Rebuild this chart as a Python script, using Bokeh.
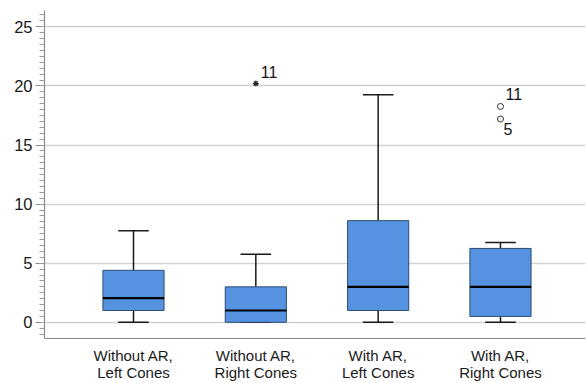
import numpy as np
from bokeh.plotting import figure
from bokeh.models import (ColumnDataSource, Range1d, SingleIntervalTicker, FixedTicker,
                          CDSView, IndexFilter)
from bokeh.core.properties import value
from bokeh.embed import file_html
from bokeh.resources import INLINE

# Groups and five-number summaries for each box
categories = ["Without AR,\nLeft Cones", "Without AR,\nRight Cones",
              "With AR,\nLeft Cones", "With AR,\nRight Cones"]
lower_whisker = [0.0, 0.0, 0.0, 0.0]
q1 = [1.0, 0.0, 1.0, 0.5]
median = [2.05, 1.0, 3.0, 3.0]
q3 = [4.4, 3.0, 8.6, 6.25]
upper_whisker = [7.75, 5.75, 19.25, 6.75]

# Outlying cases (group index, value, case number)
outlier_group = [2, 4, 4]
outlier_value = [20.2, 18.26, 17.2]
outlier_case = ["11", "11", "5"]
outlier_kind = ["extreme", "outlier", "outlier"]

y_ticks = [0, 5, 10, 15, 20, 25]

BOX_W = 0.5
CAP_W = 0.25
FONT = "Liberation Sans"
Y0, Y1 = -1.37, 26.38

pos = np.arange(1, len(categories) + 1, dtype=float)

p = figure(width=586, height=383, output_backend="svg", toolbar_location=None,
           x_range=Range1d(0.2725, 4.695), y_range=Range1d(Y0, Y1),
           min_border_left=44, min_border_top=10, min_border_right=1,
           min_border_bottom=44)
p.outline_line_color = None
p.background_fill_color = "white"
p.border_fill_color = "white"

src = ColumnDataSource(dict(
    x=pos, lo=lower_whisker, q1=q1, med=median, q3=q3, hi=upper_whisker,
    x0=pos - BOX_W / 2, x1=pos + BOX_W / 2,
    c0=pos - CAP_W / 2, c1=pos + CAP_W / 2,
))

# whisker stems
p.segment(x0="x", y0="q3", x1="x", y1="hi", source=src, line_color="#1a1a1a", line_width=1.5)
p.segment(x0="x", y0="lo", x1="x", y1="q1", source=src, line_color="#1a1a1a", line_width=1.5)
# whisker caps
p.segment(x0="c0", y0="hi", x1="c1", y1="hi", source=src, line_color="#1a1a1a", line_width=1.5)
p.segment(x0="c0", y0="lo", x1="c1", y1="lo", source=src, line_color="#1a1a1a", line_width=1.5)
# boxes
p.vbar(x="x", width=BOX_W, bottom="q1", top="q3", source=src,
       fill_color="#5593E1", line_color="#2e4c72", line_width=1)
# medians
p.segment(x0="x0", y0="med", x1="x1", y1="med", source=src, line_color="#000000", line_width=2.2)

# outliers
osrc = ColumnDataSource(dict(
    x=[float(g) for g in outlier_group], y=outlier_value, case=outlier_case,
    kind=outlier_kind,
))
ext = [i for i, k in enumerate(outlier_kind) if k == "extreme"]
out = [i for i, k in enumerate(outlier_kind) if k == "outlier"]
p.scatter(x="x", y="y", source=osrc, view=CDSView(filter=IndexFilter(ext)),
          marker="asterisk", size=6, line_color="#222222", line_width=1.2)
p.scatter(x="x", y="y", source=osrc, view=CDSView(filter=IndexFilter(out)),
          marker="circle", size=6, fill_color="white", line_color="#333333", line_width=1)

# case-number labels: above the point for the top one, below for the lower one
above = [0, 1]
below = [2]
p.text(x="x", y="y", text="case", source=osrc, view=CDSView(filter=IndexFilter(above)),
       x_offset=5, y_offset=-6, text_baseline="bottom", text_align="left",
       text_font=value(FONT), text_font_size="16px", text_color="#111111")
p.text(x="x", y="y", text="case", source=osrc, view=CDSView(filter=IndexFilter(below)),
       x_offset=3, y_offset=4, text_baseline="top", text_align="left",
       text_font=value(FONT), text_font_size="16px", text_color="#111111")

# y axis
p.yaxis.ticker = SingleIntervalTicker(interval=5, num_minor_ticks=10)
p.yaxis.axis_line_color = "#8a8a8a"
p.yaxis.axis_line_width = 1.2
p.yaxis.major_tick_line_color = "#8a8a8a"
p.yaxis.minor_tick_line_color = "#9a9a9a"
p.yaxis.major_tick_out = 9
p.yaxis.major_tick_in = 0
p.yaxis.minor_tick_out = 5
p.yaxis.minor_tick_in = 0
p.yaxis.major_label_standoff = 3
p.yaxis.major_label_text_font = FONT
p.yaxis.major_label_text_font_size = "16.5px"
p.yaxis.major_label_text_color = "#1a1a1a"

# x axis with two-line group names
p.xaxis.ticker = FixedTicker(ticks=list(pos))
p.xaxis.major_label_overrides = {float(v): c for v, c in zip(pos, categories)}
p.xaxis.axis_line_color = "#8a8a8a"
p.xaxis.axis_line_width = 1.2
p.xaxis.major_tick_line_color = None
p.xaxis.minor_tick_line_color = None
p.xaxis.major_tick_out = 0
p.xaxis.major_tick_in = 0
p.xaxis.major_label_standoff = 8
p.xaxis.major_label_text_font = FONT
p.xaxis.major_label_text_font_size = "15px"
p.xaxis.major_label_text_line_height = 1.0
p.xaxis.major_label_text_color = "#1a1a1a"

# grid
p.xgrid.grid_line_color = None
p.ygrid.ticker = FixedTicker(ticks=y_ticks)
p.ygrid.grid_line_color = "#d2d2d2"
p.ygrid.grid_line_width = 1.3

open("out.html", "w").write(file_html(p, INLINE))
